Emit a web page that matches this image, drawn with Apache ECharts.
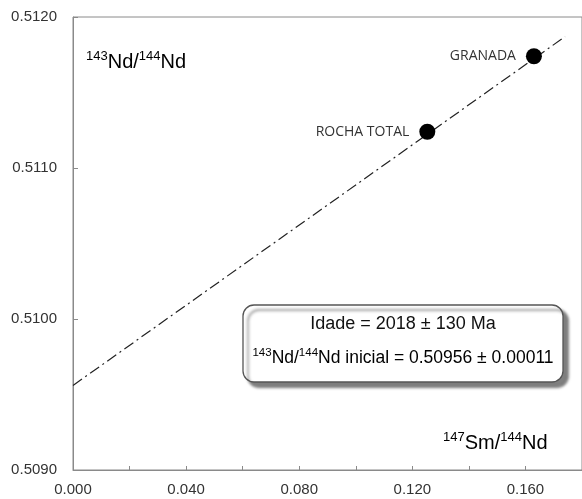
<!DOCTYPE html>
<html>
<head>
<meta charset="utf-8">
<script src="https://cdn.jsdelivr.net/npm/echarts@6/dist/echarts.min.js"></script>
<style>
  html, body { margin: 0; padding: 0; background: #fff; }
  #chart { width: 582px; height: 499px; }
</style>
</head>
<body>
<div id="chart"></div>
<script>
  // amostras (147Sm/144Nd, 143Nd/144Nd)
  const sampleNames = ['ROCHA TOTAL', 'GRANADA']
  const smNd = [0.1253, 0.1630]
  const ndNd = [0.51124, 0.51174]
  // isocrona
  const isoX = [0, 0.174]
  const isoY = [0.50956, 0.51187]

  const font = '"Liberation Sans", Arial, sans-serif'
  const myChart = echarts.init(document.getElementById('chart'))

  const sup = { fontSize: 13, fontFamily: font, color: '#111', verticalAlign: 'top', lineHeight: 24 }
  const big = { fontSize: 20, fontFamily: font, color: '#111', lineHeight: 24 }
  const sup2 = { fontSize: 11.5, fontFamily: font, color: '#111', verticalAlign: 'top', lineHeight: 22 }
  const mid = { fontSize: 17.5, fontFamily: font, color: '#111', lineHeight: 22 }

  myChart.setOption({
    animation: false,
    grid: {
      left: 73, top: 17, bottom: 29, right: -8.5,
      show: true, borderColor: '#8a8a8a', borderWidth: 1
    },
    xAxis: {
      type: 'value', min: 0, max: 0.18, interval: 0.02,
      splitLine: { show: false },
      axisLine: { lineStyle: { color: '#8a8a8a' } },
      axisTick: { inside: true, length: 4, lineStyle: { color: '#8a8a8a' } },
      axisLabel: {
        color: '#333', fontSize: 15, fontFamily: font, margin: 12, showMaxLabel: false,
        formatter: v => Math.round(v / 0.02) % 2 === 0 ? v.toFixed(3) : ''
      }
    },
    yAxis: {
      type: 'value', min: 0.509, max: 0.512, interval: 0.001,
      splitLine: { show: false },
      axisLine: { show: true, lineStyle: { color: '#8a8a8a' } },
      axisTick: { show: true, inside: true, length: 5, lineStyle: { color: '#8a8a8a' } },
      axisLabel: { color: '#333', fontSize: 15, fontFamily: font, margin: 16, formatter: v => v.toFixed(4) }
    },
    series: [
      {
        type: 'line',
        data: isoX.map((x, i) => [x, isoY[i]]),
        showSymbol: false,
        lineStyle: { color: '#222', width: 1.2, type: [11, 4, 2, 4] },
        z: 1
      },
      {
        type: 'scatter',
        data: smNd.map((x, i) => ({ name: sampleNames[i], value: [x, ndNd[i]] })),
        symbolSize: 16,
        itemStyle: { color: '#000', opacity: 1 },
        label: {
          show: true, position: 'left', distance: 10,
          formatter: '{b}', color: '#333', fontSize: 14, fontFamily: '"Open Sans", sans-serif'
        },
        z: 3
      }
    ],
    graphic: [
      {
        type: 'text', left: 86, top: 50, z: 10,
        style: { text: '{s|143}{n|Nd/}{s|144}{n|Nd}', rich: { s: sup, n: big } }
      },
      {
        type: 'text', left: 443, top: 431, z: 10,
        style: { text: '{s|147}{n|Sm/}{s|144}{n|Nd}', rich: { s: sup, n: big } }
      },
      {
        type: 'rect', z: 5,
        shape: { x: 243, y: 305, width: 320, height: 77, r: 11 },
        style: {
          fill: '#fff', stroke: '#555', lineWidth: 1.3,
          shadowBlur: 3, shadowOffsetX: 5, shadowOffsetY: 5, shadowColor: 'rgba(0,0,0,0.5)'
        }
      },
      {
        type: 'text', z: 10, x: 403, y: 324,
        style: { text: 'Idade = 2018 ± 130 Ma', font: '18px ' + font, fill: '#111', align: 'center', verticalAlign: 'middle' }
      },
      {
        type: 'text', z: 10, x: 403, y: 358,
        style: {
          text: '{s|143}{n|Nd/}{s|144}{n|Nd inicial = 0.50956 ± 0.00011}',
          rich: { s: sup2, n: mid }, align: 'center', verticalAlign: 'middle'
        }
      }
    ]
  })
</script>
</body>
</html>
